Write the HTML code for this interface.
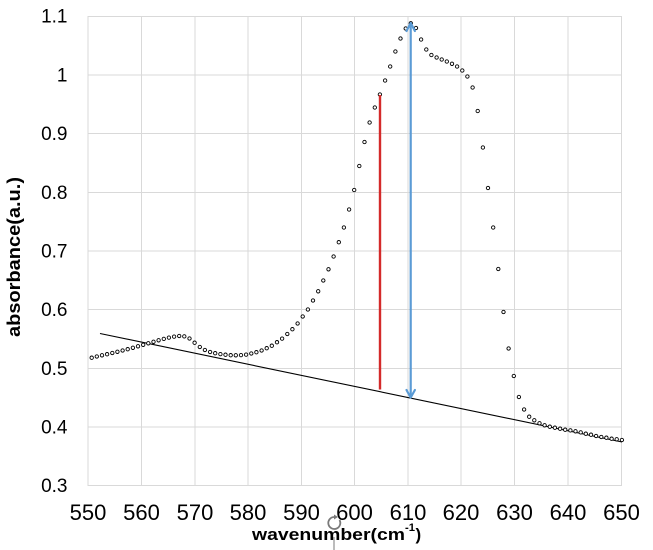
<!DOCTYPE html>
<html>
<head>
<meta charset="utf-8">
<style>
html,body{margin:0;padding:0;background:#fff;}
svg{display:block;}
text{font-family:"Liberation Sans",Arial,sans-serif;fill:#000;}
</style>
</head>
<body>
<svg width="653" height="550" viewBox="0 0 653 550" xmlns="http://www.w3.org/2000/svg">
<rect width="653" height="550" fill="#fff"/>
<g stroke="#d9d9d9" stroke-width="1" fill="none">
<line x1="88" y1="16" x2="88" y2="486"/>
<line x1="141.5" y1="16" x2="141.5" y2="486"/>
<line x1="195" y1="16" x2="195" y2="486"/>
<line x1="248" y1="16" x2="248" y2="486"/>
<line x1="301.5" y1="16" x2="301.5" y2="486"/>
<line x1="354.5" y1="16" x2="354.5" y2="486"/>
<line x1="408" y1="16" x2="408" y2="486"/>
<line x1="461" y1="16" x2="461" y2="486"/>
<line x1="514.5" y1="16" x2="514.5" y2="486"/>
<line x1="568" y1="16" x2="568" y2="486"/>
<line x1="621.5" y1="16" x2="621.5" y2="486"/>
<line x1="88" y1="16.5" x2="621.5" y2="16.5"/>
<line x1="88" y1="75" x2="621.5" y2="75"/>
<line x1="88" y1="133.5" x2="621.5" y2="133.5"/>
<line x1="88" y1="192.5" x2="621.5" y2="192.5"/>
<line x1="88" y1="251" x2="621.5" y2="251"/>
<line x1="88" y1="309.5" x2="621.5" y2="309.5"/>
<line x1="88" y1="368.5" x2="621.5" y2="368.5"/>
<line x1="88" y1="427" x2="621.5" y2="427"/>
<line x1="88" y1="485.5" x2="621.5" y2="485.5"/>
</g>
<g font-size="19" text-anchor="end">
<text x="67.5" y="22.5">1.1</text>
<text x="67.5" y="81.5">1</text>
<text x="67.5" y="140">0.9</text>
<text x="67.5" y="199">0.8</text>
<text x="67.5" y="257.5">0.7</text>
<text x="67.5" y="316">0.6</text>
<text x="67.5" y="375">0.5</text>
<text x="67.5" y="433.5">0.4</text>
<text x="67.5" y="492">0.3</text>
</g>
<g font-size="22" text-anchor="middle">
<text x="88" y="520">550</text>
<text x="141.5" y="520">560</text>
<text x="195" y="520">570</text>
<text x="248" y="520">580</text>
<text x="301.5" y="520">590</text>
<text x="354.5" y="520">600</text>
<text x="408" y="520">610</text>
<text x="461" y="520">620</text>
<text x="514.5" y="520">630</text>
<text x="568" y="520">640</text>
<text x="621.5" y="520">650</text>
</g>
<text transform="translate(20,337) rotate(-90)" font-size="18" font-weight="bold" textLength="160" lengthAdjust="spacingAndGlyphs">absorbance(a.u.)</text>
<text x="252" y="540" font-size="17" font-weight="bold" textLength="153" lengthAdjust="spacingAndGlyphs">wavenumber(cm</text>
<text x="405" y="531" font-size="11" font-weight="bold" textLength="10" lengthAdjust="spacingAndGlyphs">-1</text>
<text x="415.5" y="540" font-size="17" font-weight="bold">)</text>
<g fill="none" stroke="#7a7a7a" stroke-width="1.8">
<path d="M339.5,520 A6,6 0 1 1 334,517"/>
<line x1="334" y1="537" x2="334" y2="550" stroke-width="1"/>
</g>
<path d="M334,514.5 l4,2.5 l-4,2.5 z" fill="#7a7a7a"/>
<line x1="100" y1="333.5" x2="622" y2="442" stroke="#000" stroke-width="1.1"/>
<g fill="#fff" stroke="#000" stroke-width="0.9">
<circle cx="91.7" cy="357.7" r="1.7"/>
<circle cx="96.8" cy="356.5" r="1.7"/>
<circle cx="102.0" cy="355.3" r="1.7"/>
<circle cx="107.1" cy="354.2" r="1.7"/>
<circle cx="112.3" cy="353.0" r="1.7"/>
<circle cx="117.4" cy="351.8" r="1.7"/>
<circle cx="122.6" cy="350.5" r="1.7"/>
<circle cx="127.7" cy="349.2" r="1.7"/>
<circle cx="132.9" cy="347.8" r="1.7"/>
<circle cx="138.0" cy="346.3" r="1.7"/>
<circle cx="143.2" cy="344.8" r="1.7"/>
<circle cx="148.3" cy="343.3" r="1.7"/>
<circle cx="153.5" cy="341.8" r="1.7"/>
<circle cx="158.6" cy="340.3" r="1.7"/>
<circle cx="163.8" cy="338.9" r="1.7"/>
<circle cx="168.9" cy="337.6" r="1.7"/>
<circle cx="174.1" cy="336.6" r="1.7"/>
<circle cx="179.2" cy="336.0" r="1.7"/>
<circle cx="184.3" cy="336.4" r="1.7"/>
<circle cx="189.5" cy="338.5" r="1.7"/>
<circle cx="194.6" cy="342.7" r="1.7"/>
<circle cx="199.8" cy="347.0" r="1.7"/>
<circle cx="204.9" cy="350.0" r="1.7"/>
<circle cx="210.1" cy="352.0" r="1.7"/>
<circle cx="215.2" cy="353.2" r="1.7"/>
<circle cx="220.4" cy="354.1" r="1.7"/>
<circle cx="225.5" cy="354.7" r="1.7"/>
<circle cx="230.7" cy="355.2" r="1.7"/>
<circle cx="235.8" cy="355.3" r="1.7"/>
<circle cx="241.0" cy="355.1" r="1.7"/>
<circle cx="246.1" cy="354.6" r="1.7"/>
<circle cx="251.3" cy="353.5" r="1.7"/>
<circle cx="256.4" cy="352.2" r="1.7"/>
<circle cx="261.6" cy="350.5" r="1.7"/>
<circle cx="266.7" cy="348.2" r="1.7"/>
<circle cx="271.8" cy="345.7" r="1.7"/>
<circle cx="277.0" cy="342.2" r="1.7"/>
<circle cx="282.1" cy="338.6" r="1.7"/>
<circle cx="287.3" cy="334.0" r="1.7"/>
<circle cx="292.4" cy="329.2" r="1.7"/>
<circle cx="297.6" cy="323.5" r="1.7"/>
<circle cx="302.7" cy="316.5" r="1.7"/>
<circle cx="307.9" cy="309.5" r="1.7"/>
<circle cx="313.0" cy="300.5" r="1.7"/>
<circle cx="318.2" cy="291.3" r="1.7"/>
<circle cx="323.3" cy="280.5" r="1.7"/>
<circle cx="328.5" cy="269.3" r="1.7"/>
<circle cx="333.6" cy="256.5" r="1.7"/>
<circle cx="338.8" cy="242.2" r="1.7"/>
<circle cx="343.9" cy="227.5" r="1.7"/>
<circle cx="349.1" cy="209.5" r="1.7"/>
<circle cx="354.2" cy="190.0" r="1.7"/>
<circle cx="359.3" cy="166.0" r="1.7"/>
<circle cx="364.5" cy="142.0" r="1.7"/>
<circle cx="369.6" cy="122.5" r="1.7"/>
<circle cx="374.8" cy="107.5" r="1.7"/>
<circle cx="379.9" cy="94.5" r="1.7"/>
<circle cx="385.1" cy="80.5" r="1.7"/>
<circle cx="390.2" cy="66.5" r="1.7"/>
<circle cx="395.4" cy="51.5" r="1.7"/>
<circle cx="400.5" cy="38.5" r="1.7"/>
<circle cx="405.7" cy="28.5" r="1.7"/>
<circle cx="410.8" cy="23.3" r="1.7"/>
<circle cx="416.0" cy="28.0" r="1.7"/>
<circle cx="421.1" cy="39.5" r="1.7"/>
<circle cx="426.3" cy="49.5" r="1.7"/>
<circle cx="431.4" cy="55.0" r="1.7"/>
<circle cx="436.6" cy="57.5" r="1.7"/>
<circle cx="441.7" cy="59.5" r="1.7"/>
<circle cx="446.8" cy="61.5" r="1.7"/>
<circle cx="452.0" cy="63.8" r="1.7"/>
<circle cx="457.1" cy="66.5" r="1.7"/>
<circle cx="462.3" cy="70.5" r="1.7"/>
<circle cx="467.4" cy="76.5" r="1.7"/>
<circle cx="472.6" cy="87.5" r="1.7"/>
<circle cx="477.7" cy="111.0" r="1.7"/>
<circle cx="482.9" cy="147.5" r="1.7"/>
<circle cx="488.0" cy="188.0" r="1.7"/>
<circle cx="493.2" cy="227.5" r="1.7"/>
<circle cx="498.3" cy="269.0" r="1.7"/>
<circle cx="503.5" cy="312.0" r="1.7"/>
<circle cx="508.6" cy="348.5" r="1.7"/>
<circle cx="513.8" cy="376.0" r="1.7"/>
<circle cx="518.9" cy="397.0" r="1.7"/>
<circle cx="524.1" cy="409.5" r="1.7"/>
<circle cx="529.2" cy="416.7" r="1.7"/>
<circle cx="534.3" cy="420.3" r="1.7"/>
<circle cx="539.5" cy="423.3" r="1.7"/>
<circle cx="544.6" cy="425.3" r="1.7"/>
<circle cx="549.8" cy="426.7" r="1.7"/>
<circle cx="554.9" cy="427.7" r="1.7"/>
<circle cx="560.1" cy="428.7" r="1.7"/>
<circle cx="565.2" cy="429.7" r="1.7"/>
<circle cx="570.4" cy="430.4" r="1.7"/>
<circle cx="575.5" cy="431.3" r="1.7"/>
<circle cx="580.7" cy="432.4" r="1.7"/>
<circle cx="585.8" cy="433.7" r="1.7"/>
<circle cx="591.0" cy="434.7" r="1.7"/>
<circle cx="596.1" cy="436.0" r="1.7"/>
<circle cx="601.3" cy="437.0" r="1.7"/>
<circle cx="606.4" cy="437.7" r="1.7"/>
<circle cx="611.6" cy="438.7" r="1.7"/>
<circle cx="616.7" cy="439.3" r="1.7"/>
<circle cx="621.9" cy="440.0" r="1.7"/>
</g>
<line x1="380" y1="95" x2="380" y2="389.5" stroke="#d42a2a" stroke-width="2.4"/>
<g stroke="#5b9bd5" stroke-width="2.2" fill="none" stroke-linecap="round" stroke-linejoin="round">
<line x1="410.7" y1="23.5" x2="410.7" y2="396.5"/>
<polyline points="406.5,31 410.7,23 414.9,31"/>
<polyline points="406.5,390 410.7,397.5 414.9,390"/>
</g>
</svg>
</body>
</html>
